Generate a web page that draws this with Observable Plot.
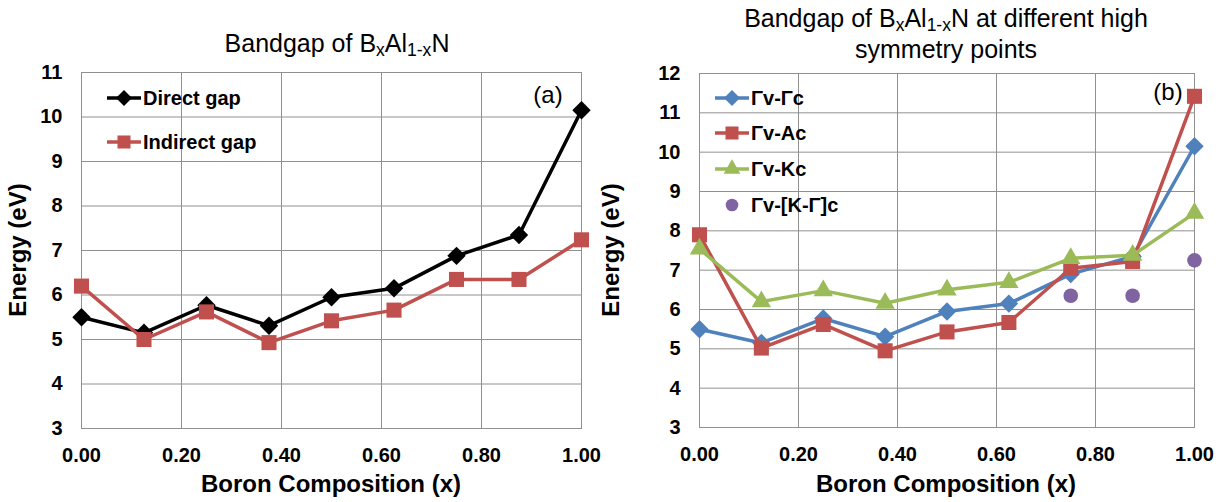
<!DOCTYPE html>
<html><head><meta charset="utf-8">
<script src="https://cdn.jsdelivr.net/npm/d3@7"></script>
<script src="https://cdn.jsdelivr.net/npm/@observablehq/plot@0.6"></script>
<style>
body{margin:0;background:#fff;}
#wrap{position:relative;width:1225px;height:502px;font-family:"Liberation Sans",Arial,sans-serif;color:#000;overflow:hidden;background:#fff}
.abs{position:absolute;white-space:nowrap}
.title{font-size:25px;text-align:center;line-height:27px}
.title sub{font-size:0.7em;vertical-align:-0.2em;line-height:0}
.tag{font-size:24px;text-align:center;line-height:27px}
.axt{font-weight:bold;font-size:24px;line-height:24px;text-align:center}
.leg{font-weight:bold;font-size:20px;line-height:20px;display:flex;align-items:center}
.plotbox{position:absolute;top:0}
</style></head><body><div id="wrap"></div>
<script>
// ---- data ----
const boronX = [0, 0.125, 0.25, 0.375, 0.5, 0.625, 0.75, 0.875, 1];
const directGap   = [5.5, 5.15, 5.77, 5.31, 5.95, 6.15, 6.88, 7.35, 10.15];
const indirectGap = [6.2, 5.0, 5.62, 4.93, 5.42, 5.66, 6.35, 6.35, 7.24];
const gvGc = [5.5, 5.15, 5.77, 5.31, 5.95, 6.15, 6.9, 7.35, 10.15];
const gvAc = [7.9, 5.02, 5.62, 4.95, 5.43, 5.67, 7.05, 7.22, 11.42];
const gvKc = [7.54, 6.2, 6.48, 6.16, 6.5, 6.69, 7.3, 7.38, 8.45];
const kgX  = [0.75, 0.875, 1];
const gvKGc = [6.35, 6.35, 7.25];
const xTicks = [0, 0.2, 0.4, 0.6, 0.8, 1];
const yTicksA = [3, 4, 5, 6, 7, 8, 9, 10, 11];
const yTicksB = [3, 4, 5, 6, 7, 8, 9, 10, 11, 12];
const seriesA = ["Direct gap", "Indirect gap"];
const seriesB = ["Γv-Γc", "Γv-Ac", "Γv-Kc", "Γv-[K-Γ]c"];

const FONT = '"Liberation Sans", Arial, sans-serif';
const GRID = "#909090";
const C = {black: "#000000", red: "#C0504D", blue: "#4F81BD", green: "#9BBB59", purple: "#8064A2"};
const rows = (xs, ys) => xs.map((x, i) => ({x, y: ys[i]}));

const SYM = {diamond2: {d3: d3.symbolDiamond2, r: 8.3}, square: {d3: d3.symbolSquare, r: 8.5}, triangle: {d3: d3.symbolTriangle, r: 7.2}, circle: {d3: d3.symbolCircle, r: 7.3}};

function seriesMarks(data, color, sym, line = true) {
  const m = [];
  if (line) m.push(Plot.line(data, {x: "x", y: "y", stroke: color, strokeWidth: 3.5, strokeLinejoin: "round"}));
  m.push(Plot.dot(data, {x: "x", y: "y", symbol: sym, r: SYM[sym].r, fill: color, stroke: "none"}));
  return m;
}

function panel({width, ml, mr, mt, mb, yDomain, yTicks, marks}) {
  return Plot.plot({
    width, height: 502, marginLeft: ml, marginRight: mr, marginTop: mt, marginBottom: mb,
    style: {fontFamily: FONT, fontSize: "20px", fontWeight: "bold", color: "#000", background: "transparent", overflow: "visible"},
    x: {domain: [0, 1]},
    y: {domain: yDomain},
    marks: [
      Plot.gridX(xTicks, {stroke: GRID, strokeOpacity: 1, strokeWidth: 1}),
      Plot.gridY(yTicks, {stroke: GRID, strokeOpacity: 1, strokeWidth: 1}),
      Plot.frame({stroke: GRID, strokeWidth: 1}),
      Plot.axisX(xTicks, {tickSize: 0, tickPadding: 19, tickFormat: d => d.toFixed(2), label: null, fontSize: 20, fontWeight: "bold"}),
      Plot.axisY(yTicks, {tickSize: 0, tickPadding: 19, label: null, fontSize: 20, fontWeight: "bold"}),
      ...marks
    ]
  });
}

const wrap = document.getElementById("wrap");

const plotA = panel({
  width: 612, ml: 81, mr: 31, mt: 72, mb: 74, yDomain: [3, 11], yTicks: yTicksA,
  marks: [
    ...seriesMarks(rows(boronX, directGap), C.black, "diamond2"),
    ...seriesMarks(rows(boronX, indirectGap), C.red, "square")
  ]
});
const boxA = document.createElement("div"); boxA.className = "plotbox"; boxA.style.left = "0px"; boxA.appendChild(plotA); wrap.appendChild(boxA);

const plotB = panel({
  width: 613, ml: 87, mr: 31, mt: 73, mb: 75, yDomain: [3, 12], yTicks: yTicksB,
  marks: [
    ...seriesMarks(rows(boronX, gvGc), C.blue, "diamond2"),
    ...seriesMarks(rows(boronX, gvAc), C.red, "square"),
    ...seriesMarks(rows(boronX, gvKc), C.green, "triangle"),
    ...seriesMarks(rows(kgX, gvKGc), C.purple, "circle", false)
  ]
});
const boxB = document.createElement("div"); boxB.className = "plotbox"; boxB.style.left = "612px"; boxB.appendChild(plotB); wrap.appendChild(boxB);

function addDiv(cls, html, style) {
  const d = document.createElement("div");
  d.className = "abs " + cls;
  d.innerHTML = html;
  Object.assign(d.style, style);
  wrap.appendChild(d);
  return d;
}
// titles
const formula = 'B<sub>x</sub>Al<sub>1-x</sub>N';
addDiv("title", "Bandgap of " + formula, {left: "137px", width: "400px", top: "30px"});
addDiv("title", "Bandgap of " + formula + " at different high", {left: "696px", width: "500px", top: "5px"});
addDiv("title", "symmetry points", {left: "746px", width: "400px", top: "36px"});
// panel tags
addDiv("tag", "(a)", {left: "518px", width: "60px", top: "81px"});
addDiv("tag", "(b)", {left: "1138px", width: "60px", top: "78px"});
// axis titles
addDiv("axt", "Boron Composition (x)", {left: "181px", width: "300px", top: "472px"});
addDiv("axt", "Boron Composition (x)", {left: "796px", width: "300px", top: "472px"});
addDiv("axt", "Energy (eV)", {left: "-132px", width: "300px", top: "238px", transform: "rotate(-90deg)"});
addDiv("axt", "Energy (eV)", {left: "461px", width: "300px", top: "238px", transform: "rotate(-90deg)"});

// legends
function legendItem(label, color, sym, line, x, y) {
  const sz = Math.PI * SYM[sym].r * SYM[sym].r * 0.75;
  const path = d3.symbol(SYM[sym].d3, sz)();
  const svg = `<svg width="36" height="22" style="flex:none;overflow:visible">` +
    (line ? `<line x1="0" x2="34" y1="11" y2="11" stroke="${color}" stroke-width="3.5"/>` : "") +
    `<path d="${path}" transform="translate(17,11)" fill="${color}"/></svg>`;
  addDiv("leg", svg + `<span>${label}</span>`, {left: x + "px", top: (y - 11) + "px", height: "22px"});
}
legendItem(seriesA[0], C.black, "diamond2", true, 107, 98);
legendItem(seriesA[1], C.red, "square", true, 107, 142);
legendItem(seriesB[0], C.blue, "diamond2", true, 715, 98);
legendItem(seriesB[1], C.red, "square", true, 715, 133);
legendItem(seriesB[2], C.green, "triangle", true, 715, 169);
legendItem(seriesB[3], C.purple, "circle", false, 715, 205);
</script>
</body></html>
